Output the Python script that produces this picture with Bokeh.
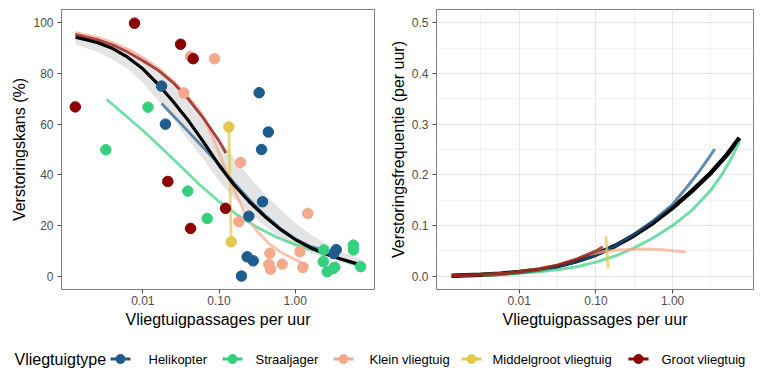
from bokeh.plotting import figure
from bokeh.layouts import row, column
from bokeh.models import Range1d, FixedTicker, NumeralTickFormatter
from bokeh.embed import file_html
from bokeh.resources import INLINE
from bokeh.core.properties import value

# ---------------- data ----------------
types = ["Helikopter", "Straaljager", "Klein vliegtuig", "Middelgroot vliegtuig", "Groot vliegtuig"]
colors = ["#1F5C8E", "#35D07F", "#F4A98C", "#E3C84F", "#8B0000"]

x_ticks = [0.01, 0.1, 1.0]
y_ticks_left = [0, 20, 40, 60, 80, 100]
y_ticks_right = [0.0, 0.1, 0.2, 0.3, 0.4, 0.5]

# observed points (passages per hour, disturbance %)
heli_x = [0.0176, 0.0198, 0.336, 0.443, 0.361, 0.372, 0.246, 0.234, 0.281, 0.197, 3.2, 3.45]
heli_y = [75.0, 60.0, 72.4, 56.9, 50.0, 29.4, 23.7, 7.7, 6.1, 0.1, 9.0, 10.5]
straal_x = [0.00327, 0.0117, 0.0389, 0.070, 2.37, 2.33, 2.63, 3.15, 3.3, 5.77, 5.8, 7.2]
straal_y = [49.9, 66.7, 33.6, 22.8, 10.4, 5.8, 1.8, 3.1, 3.6, 12.3, 10.4, 3.8]
klein_x = [0.0345, 0.0423, 0.0873, 0.191, 0.182, 1.46, 0.465, 0.451, 0.474, 0.675, 1.15, 1.26]
klein_y = [72.3, 86.7, 85.8, 44.9, 21.5, 24.8, 9.1, 4.7, 2.8, 4.8, 9.7, 3.5]
middel_x = [0.1346, 0.1445]
middel_y = [58.9, 13.6]
groot_x = [0.0013, 0.00778, 0.0313, 0.0458, 0.0213, 0.0423, 0.1216]
groot_y = [66.8, 99.8, 91.5, 85.8, 37.4, 18.9, 26.8]

# fitted curves, left panel (disturbance probability %)
all_x = [0.00131, 0.00251, 0.00398, 0.00631, 0.01, 0.0158, 0.0251, 0.0398, 0.0631, 0.1,
         0.158, 0.251, 0.398, 0.631, 1.0, 1.58, 2.51, 3.98, 7.45]
all_y = [94.3, 92.2, 89.9, 86.4, 81.8, 75.8, 68.8, 61.3, 52.8, 43.8,
         36.0, 29.3, 23.6, 18.6, 14.5, 11.3, 8.8, 6.8, 4.4]
all_lo = [91.5, 88.5, 85.5, 81.8, 76.2, 69.5, 62.0, 53.5, 46.0, 37.5,
          30.8, 25.0, 19.8, 15.5, 12.0, 9.3, 7.2, 5.5, 3.6]
all_hi = [95.2, 93.5, 91.8, 89.5, 86.5, 82.0, 76.5, 70.0, 62.5, 54.5,
          46.5, 39.2, 32.5, 26.5, 21.0, 16.5, 12.8, 9.8, 6.6]

heli_fx = [0.0176, 0.0316, 0.0562, 0.1, 0.158, 0.251, 0.398, 0.631, 1.0, 1.58, 2.51, 3.38]
heli_fy = [68.1, 60.2, 52.2, 44.2, 36.8, 30.2, 24.2, 19.0, 14.8, 11.8, 10.0, 9.0]
straal_fx = [0.00334, 0.00562, 0.01, 0.0178, 0.0316, 0.0562, 0.1, 0.178, 0.316, 0.562,
             1.0, 1.78, 3.16, 7.2]
straal_fy = [69.8, 64.0, 57.5, 50.5, 43.3, 36.0, 29.5, 24.0, 19.3, 15.5,
             12.5, 10.2, 7.8, 3.8]
klein_fx = [0.0013, 0.00251, 0.00398, 0.00631, 0.01, 0.0158, 0.0251, 0.0398, 0.0562, 0.0794,
            0.112, 0.158, 0.234, 0.316, 0.447, 0.631, 1.0, 1.49]
klein_fy = [96.2, 94.2, 92.3, 89.6, 86.2, 82.2, 77.0, 70.5, 65.2, 56.0,
            45.0, 34.0, 23.0, 17.8, 13.0, 9.7, 6.5, 4.2]
middel_fx = [0.1346, 0.1445]
middel_fy = [58.9, 13.6]
groot_fx = [0.0013, 0.00251, 0.00398, 0.00631, 0.01, 0.0158, 0.0251, 0.0398, 0.0631, 0.1, 0.123]
groot_fy = [95.4, 93.3, 91.3, 88.4, 85.0, 81.3, 76.3, 69.8, 62.2, 53.4, 48.6]

# fitted curves, right panel (disturbance frequency per hour)
all_rx = [0.00131, 0.00316, 0.00562, 0.01, 0.0178, 0.0316, 0.0562, 0.1, 0.178, 0.316, 0.562,
          1.0, 1.78, 3.16, 5.01, 7.45]
all_ry = [0.0012, 0.003, 0.005, 0.0085, 0.013, 0.02, 0.03, 0.043, 0.06, 0.081, 0.106,
          0.135, 0.168, 0.204, 0.238, 0.273]
heli_rx = [0.0176, 0.0316, 0.0562, 0.1, 0.178, 0.316, 0.562, 1.0, 1.58, 2.27, 2.82, 3.55]
heli_ry = [0.012, 0.019, 0.029, 0.042, 0.06, 0.083, 0.11, 0.142, 0.178, 0.209, 0.229, 0.251]
straal_rx = [0.00334, 0.00562, 0.01, 0.0178, 0.0316, 0.0562, 0.1, 0.178, 0.316, 0.562,
             1.0, 1.78, 3.16, 4.37, 5.62, 7.45]
straal_ry = [0.0023, 0.0035, 0.0058, 0.0088, 0.013, 0.019, 0.028, 0.04, 0.056, 0.076,
             0.10, 0.13, 0.17, 0.2, 0.228, 0.265]
klein_rx = [0.0013, 0.00316, 0.00631, 0.01, 0.0178, 0.0316, 0.0562, 0.0794, 0.126, 0.2,
            0.316, 0.501, 0.794, 1.48]
klein_ry = [0.00125, 0.003, 0.0058, 0.009, 0.0145, 0.023, 0.035, 0.043, 0.049, 0.052,
            0.0535, 0.054, 0.052, 0.048]
middel_rx = [0.1346, 0.1445]
middel_ry = [0.079, 0.016]
groot_rx = [0.0013, 0.00316, 0.00631, 0.01, 0.0178, 0.0316, 0.0562, 0.1, 0.123]
groot_ry = [0.0013, 0.003, 0.0055, 0.0085, 0.0138, 0.022, 0.034, 0.05, 0.058]

# ---------------- styling ----------------
FONT = "Liberation Sans"
TICK_COL = "#4D4D4D"
BORDER_COL = "#7F7F7F"

points = [(heli_x, heli_y), (straal_x, straal_y), (klein_x, klein_y),
          (middel_x, middel_y), (groot_x, groot_y)]
fits_left = [(heli_fx, heli_fy), (straal_fx, straal_fy), (klein_fx, klein_fy),
             (middel_fx, middel_fy), (groot_fx, groot_fy)]
fits_right = [(heli_rx, heli_ry), (straal_rx, straal_ry), (klein_rx, klein_ry),
              (middel_rx, middel_ry), (groot_rx, groot_ry)]


def style(p, xlabel, ylabel, yticks, yfmt):
    p.toolbar_location = None
    p.outline_line_color = BORDER_COL
    p.outline_line_width = 1
    p.background_fill_color = "white"
    p.border_fill_color = "white"
    p.xaxis.ticker = FixedTicker(ticks=x_ticks)
    p.xaxis.formatter = NumeralTickFormatter(format="0.00")
    p.yaxis.ticker = FixedTicker(ticks=yticks)
    p.yaxis.formatter = NumeralTickFormatter(format=yfmt)
    for ax in (p.xaxis[0], p.yaxis[0]):
        ax.axis_line_color = None
        ax.major_tick_line_color = TICK_COL
        ax.major_tick_out = 4
        ax.major_tick_in = 0
        ax.minor_tick_line_color = None
        ax.major_label_text_font = FONT
        ax.major_label_text_font_size = "12px"
        ax.major_label_text_color = TICK_COL
        ax.axis_label_text_font = FONT
        ax.axis_label_text_font_size = "16px"
        ax.axis_label_text_font_style = "normal"
        ax.axis_label_text_color = "#000000"
    p.xaxis.axis_label_standoff = 3
    p.yaxis.axis_label_standoff = 2
    p.xaxis.major_label_standoff = 2
    p.yaxis.major_label_standoff = 4
    p.xaxis.axis_label = xlabel
    p.yaxis.axis_label = ylabel


# ---------------- left panel ----------------
left = figure(width=385, height=336, x_axis_type="log",
              x_range=Range1d(10 ** -3.067, 10 ** 1.04), y_range=Range1d(-5.2, 105.2),
              output_backend="svg", toolbar_location=None,
              min_border_left=61, min_border_right=11, min_border_top=9, min_border_bottom=47)
style(left, "Vliegtuigpassages per uur", "Verstoringskans (%)", y_ticks_left, "0")
left.grid.visible = False

left.varea(x=all_x, y1=all_lo, y2=all_hi, fill_color="#E4E4E4")
for (fx, fy), c in zip(fits_left, colors):
    left.line(fx, fy, line_color=c, line_width=2.8, line_alpha=0.7)
left.line(all_x, all_y, line_color="black", line_width=3.2)
for (px, py), c in zip(points, colors):
    left.scatter(px, py, size=10.5, fill_color=c, line_color=c)

# ---------------- right panel ----------------
right = figure(width=385, height=336, x_axis_type="log",
               x_range=Range1d(10 ** -3.08, 10 ** 1.055), y_range=Range1d(-0.026, 0.526),
               output_backend="svg", toolbar_location=None,
               min_border_left=51, min_border_right=17, min_border_top=9, min_border_bottom=47)
style(right, "Vliegtuigpassages per uur", "Verstoringsfrequentie (per uur)", y_ticks_right, "0.0")
right.xaxis.ticker = FixedTicker(ticks=x_ticks, minor_ticks=[10 ** -2.5, 10 ** -1.5, 10 ** -0.5, 10 ** 0.5])
right.yaxis.ticker = FixedTicker(ticks=y_ticks_right, minor_ticks=[0.05, 0.15, 0.25, 0.35, 0.45])
right.grid.grid_line_color = "#E6E6E6"
right.grid.grid_line_width = 1
right.grid.minor_grid_line_color = "#F1F1F1"
right.grid.minor_grid_line_width = 1

right.line(all_rx, all_ry, line_color="black", line_width=4.5)
for (fx, fy), c in zip(fits_right, colors):
    right.line(fx, fy, line_color=c, line_width=3, line_alpha=0.7)

# ---------------- legend strip ----------------
leg = figure(width=770, height=36, x_range=Range1d(0, 770), y_range=Range1d(0, 36),
             output_backend="svg", toolbar_location=None,
             min_border=0, min_border_left=0, min_border_right=0, min_border_top=0, min_border_bottom=0)
leg.axis.visible = False
leg.grid.visible = False
leg.outline_line_color = None

key_cx = [120, 232, 343, 471, 638]
label_x = [148, 255, 369, 492, 661]
yc = 13.5
leg.text(x=[14], y=[yc], text=["Vliegtuigtype"], text_font=value(FONT), text_font_size="16px",
         text_baseline="middle", text_align="left", text_color="black")
leg.segment(x0=[k - 10 for k in key_cx], x1=[k + 10 for k in key_cx], y0=[yc] * 5, y1=[yc] * 5,
            line_color=colors, line_width=3)
leg.scatter(key_cx, [yc] * 5, size=9, fill_color=colors, line_color=colors)
leg.text(x=label_x, y=[yc] * 5, text=types, text_font=value(FONT), text_font_size="13px",
         text_baseline="middle", text_align="left", text_color="black")

layout = column(row(left, right), leg)
open("out.html", "w").write(file_html(layout, INLINE))
